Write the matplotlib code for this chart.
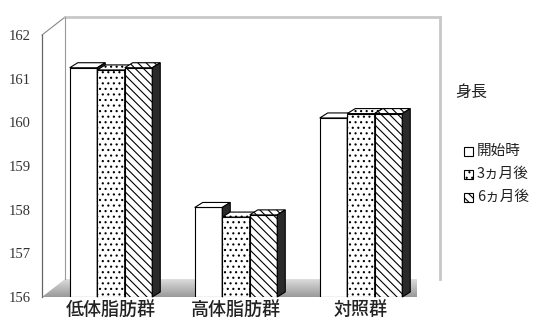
import numpy as np
import matplotlib
matplotlib.use('Agg')
import matplotlib.pyplot as plt
from matplotlib.patches import Polygon, Rectangle

plt.rcParams['font.family'] = ['Noto Sans CJK JP', 'DejaVu Sans']
plt.rcParams['hatch.linewidth'] = 0.8

groups = ['低体脂肪群', '高体脂肪群', '対照群']
series = ['開始時', '3ヵ月後', '6ヵ月後']
start = [161.25, 158.05, 160.1]
month3 = [161.2, 157.83, 160.2]
month6 = [161.25, 157.88, 160.2]
yticks = [156, 157, 158, 159, 160, 161, 162]
title = '身長'

values = [start, month3, month6]
hatches = ['', '...', '\\\\\\\\']

fig = plt.figure(figsize=(5.49, 3.27), dpi=100)
ax = fig.add_axes([42 / 549, 30 / 327, 375 / 549, 262 / 327])
ax.set_xlim(-0.552, 2.448)
ax.set_ylim(156, 162)
ymin, ymax = 156, 162

# depth of the back wall and of each bar, in data units
wdx, wdy = 0.184, 0.41
bdx, bdy = 0.064, 0.115
w = 0.22
x0, x1 = ax.get_xlim()

# floor with a soft gradient
floor = Polygon([(x0, ymin), (x0 + wdx, ymin + wdy), (x1 + wdx, ymin + wdy), (x1, ymin)],
                closed=True, facecolor='none', edgecolor='none', clip_on=False)
ax.add_patch(floor)
grad = np.linspace(0.6, 0.86, 50).reshape(-1, 1)
im = ax.imshow(grad, cmap='gray', vmin=0, vmax=1, aspect='auto',
               extent=(x0, x1 + wdx, ymin + wdy, ymin), zorder=1)
im.set_clip_path(floor)
im.set_clip_box(None)
ax.set_xlim(x0, x1)
ax.set_ylim(ymin, ymax)

# walls
lc = '#c8c8c8'
ax.plot([x0, x0 + wdx], [ymax, ymax + wdy], color='#888888', lw=0.8, clip_on=False)
ax.plot([x0 + wdx, x1 + wdx], [ymax + wdy, ymax + wdy], color=lc, lw=2, clip_on=False)
ax.plot([x1 + wdx, x1 + wdx], [ymin + wdy, ymax + wdy], color=lc, lw=2, clip_on=False)
ax.plot([x0 + wdx, x0 + wdx], [ymin + wdy, ymax + wdy], color='#999999', lw=0.8, clip_on=False)

# 3d bars
for i in range(len(groups)):
    for j in range(len(series)):
        v = values[j][i]
        left = i + (j - 1) * w - w / 2
        right = left + w
        z = 3 + i * 3 + j
        ax.bar(left, v - ymin, width=w, bottom=ymin, align='edge', color='white',
               edgecolor='black', linewidth=0.8, hatch=hatches[j], zorder=z)
        top = Polygon([(left, v), (left + bdx, v + bdy), (right + bdx, v + bdy), (right, v)],
                      closed=True, facecolor='white', edgecolor='black', linewidth=0.8,
                      hatch=hatches[j], zorder=z, clip_on=False)
        ax.add_patch(top)
        side = Polygon([(right, ymin), (right + bdx, ymin + bdy), (right + bdx, v + bdy), (right, v)],
                       closed=True, facecolor='#2a2a2a', edgecolor='black', linewidth=0.8,
                       zorder=z, clip_on=False)
        ax.add_patch(side)

for s in ['top', 'right', 'bottom']:
    ax.spines[s].set_visible(False)
ax.spines['left'].set_color('#666666')
ax.spines['left'].set_linewidth(0.9)

ax.set_yticks(yticks)
ax.set_yticklabels([str(t) for t in yticks], family='Liberation Serif', fontsize=10.5,
                   color='#333333')
ax.tick_params(axis='y', length=0, pad=8)
ax.set_xticks(range(len(groups)))
ax.set_xticklabels(groups, fontsize=13, color='#222222', fontweight='medium')
ax.tick_params(axis='x', length=0, pad=3)

# legend
fig.text(455 / 549, 1 - 92 / 327, title, fontsize=11.5, color='#222222', va='center', ha='left')
for k, lab in enumerate(series):
    yc = 1 - (151 + k * 23) / 327
    sq = Rectangle((464 / 549, yc - 4.5 / 327), 9 / 549, 9 / 327, transform=fig.transFigure,
                   facecolor='white', edgecolor='black', linewidth=0.8, hatch=hatches[k])
    fig.patches.append(sq)
    fig.text(477 / 549, yc, lab, fontsize=10.5, color='#222222', va='center', ha='left')

fig.savefig('out.png', dpi=100)
